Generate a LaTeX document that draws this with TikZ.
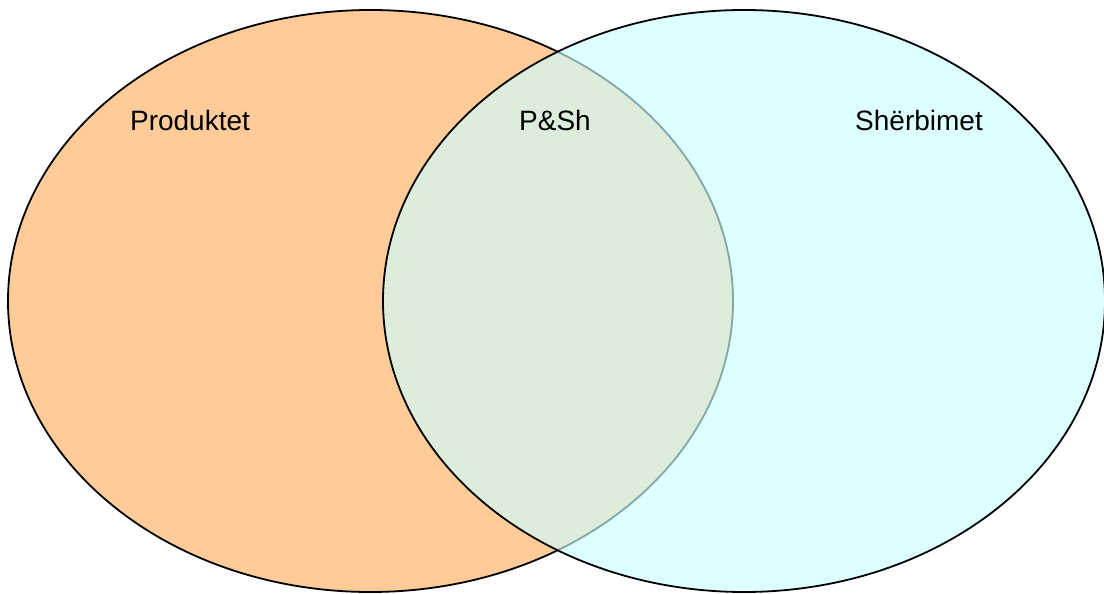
\documentclass[tikz,border=0pt]{standalone}
\usepackage{fontspec}
\setmainfont{Liberation Sans}
\definecolor{prodfill}{RGB}{255,204,153}
\definecolor{sherfill}{RGB}{204,255,255}

\begin{document}
\begin{tikzpicture}[x=1pt,y=-1pt,
  prod/.style={draw=black,line width=1.8pt,fill=prodfill},
  sher/.style={draw=black,line width=1.8pt,fill=sherfill,fill opacity=0.65,draw opacity=1},
  label/.style={font=\fontsize{28}{34}\selectfont,inner sep=0pt}]
\useasboundingbox (0,0) rectangle (1104,594);
\clip (0,0) rectangle (1104,594);

\draw[prod] (370.5,301) ellipse [x radius=362.5, y radius=291];
\draw[sher] (744,301) ellipse [x radius=361, y radius=291];

\node[label] at (190,120.5) (p) {Produktet};
\node[label] at (555,120.5) (ps) {P\&Sh};
\node[label] at (919,120.5) (sh) {Shërbimet};
\end{tikzpicture}
\end{document}
